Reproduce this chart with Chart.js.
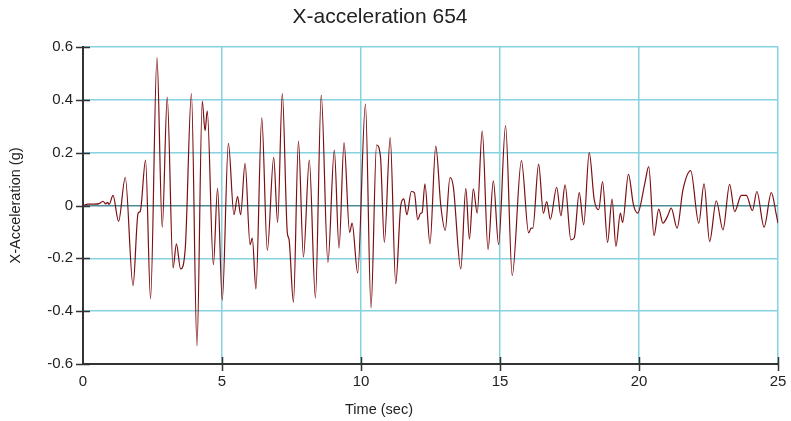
<!DOCTYPE html>
<html>
<head>
<meta charset="utf-8">
<script src="https://cdn.jsdelivr.net/npm/chart.js@4"></script>
<style>
  html, body { margin: 0; padding: 0; background: #fff; }
  #wrap { width: 791px; height: 421px; }
</style>
</head>
<body>
<div id="wrap"><canvas id="accelChart" width="791" height="421"></canvas></div>
<script>
// labels
const chartTitle = 'X-acceleration 654';
const xTitle = 'Time (sec)';
const yTitle = 'X-Acceleration (g)';

// ticks
const xTicks = [0, 5, 10, 15, 20, 25];
const yTicks = [-0.6, -0.4, -0.2, 0, 0.2, 0.4, 0.6];

// record (sec, g)
const times = [
  0.00, 0.18, 0.42, 0.60, 0.72, 0.82, 0.88, 0.94, 1.08, 1.28,
  1.52, 1.80, 1.98, 2.06, 2.25, 2.43, 2.66, 2.85, 3.03, 3.24,
  3.36, 3.51, 3.68, 3.90, 4.10, 4.29, 4.39, 4.47, 4.69, 4.84,
  5.01, 5.23, 5.43, 5.56, 5.67, 5.83, 6.01, 6.09, 6.22, 6.43,
  6.63, 6.86, 7.00, 7.17, 7.35, 7.41, 7.57, 7.75, 7.93, 8.14,
  8.36, 8.57, 8.81, 9.04, 9.21, 9.39, 9.59, 9.68, 9.88, 10.16,
  10.36, 10.56, 10.70, 10.84, 11.05, 11.25, 11.43, 11.54, 11.65, 11.81,
  11.92, 12.04, 12.14, 12.20, 12.30, 12.48, 12.69, 12.87, 13.03, 13.20,
  13.32, 13.59, 13.77, 13.90, 14.04, 14.18, 14.36, 14.57, 14.76, 14.95,
  15.20, 15.44, 15.77, 16.03, 16.12, 16.18, 16.39, 16.56, 16.68, 16.81,
  17.04, 17.19, 17.34, 17.55, 17.67, 17.85, 18.01, 18.21, 18.39, 18.55,
  18.69, 18.87, 19.03, 19.17, 19.33, 19.41, 19.62, 19.80, 19.95, 20.21,
  20.35, 20.54, 20.71, 20.86, 21.02, 21.16, 21.37, 21.58, 21.86, 22.15,
  22.34, 22.54, 22.78, 23.02, 23.26, 23.44, 23.68, 23.86, 24.08, 24.24,
  24.50, 24.76, 24.94, 25.00
];
const accel = [
  0.000, 0.005, 0.005, 0.008, 0.016, 0.006, 0.012, 0.004, 0.038, -0.060,
  0.106, -0.303, -0.030, -0.022, 0.172, -0.353, 0.560, -0.082, 0.409, -0.236,
  -0.145, -0.240, -0.160, 0.424, -0.532, 0.395, 0.283, 0.358, -0.224, 0.065,
  -0.358, 0.235, -0.035, 0.034, -0.035, 0.160, -0.148, -0.123, -0.316, 0.332,
  -0.170, 0.182, -0.064, 0.424, -0.104, -0.127, -0.366, 0.244, -0.195, 0.172,
  -0.350, 0.418, -0.215, 0.210, -0.161, 0.238, -0.102, -0.067, -0.255, 0.384,
  -0.387, 0.229, 0.185, -0.140, 0.257, -0.296, 0.000, 0.025, -0.035, 0.053,
  0.049, -0.054, -0.030, -0.026, 0.082, -0.145, 0.225, 0.000, -0.094, 0.106,
  0.072, -0.240, 0.065, -0.127, 0.063, -0.029, 0.283, -0.167, 0.093, -0.148,
  0.302, -0.265, 0.170, -0.104, -0.086, -0.086, 0.157, -0.029, 0.015, -0.052,
  0.069, -0.039, 0.078, -0.130, -0.123, 0.049, -0.073, 0.200, 0.021, -0.016,
  0.090, -0.140, 0.024, -0.155, -0.029, -0.064, 0.118, 0.003, -0.029, 0.084,
  0.147, -0.114, -0.014, -0.067, -0.042, -0.010, -0.086, 0.059, 0.132, -0.067,
  0.082, -0.136, 0.018, -0.092, 0.080, -0.023, 0.038, 0.038, -0.019, 0.053,
  -0.082, 0.049, -0.035, -0.067
];

const FONT = "'Liberation Sans', Arial, sans-serif";
const gridCyan = '#86d2e0';
const zeroLine = '#4a8b95';
const axisDark = '#333333';

// title, axis titles and ticks that cross the axes
const decorations = {
  id: 'decorations',
  afterDraw(chart) {
    const ctx = chart.ctx;
    const area = chart.chartArea;
    const xs = chart.scales.x;
    const ys = chart.scales.y;
    ctx.save();
    ctx.strokeStyle = axisDark;
    ctx.lineWidth = 1.5;
    ctx.beginPath();
    yTicks.forEach(v => {
      const py = Math.round(ys.getPixelForValue(v)) + 0.5;
      ctx.moveTo(area.left - 7, py);
      ctx.lineTo(area.left + 7, py);
    });
    xTicks.forEach(v => {
      if (v === 0) return;
      const px = Math.round(xs.getPixelForValue(v)) + 0.5;
      ctx.moveTo(px, area.bottom - 7);
      ctx.lineTo(px, area.bottom + 7);
    });
    ctx.stroke();

    ctx.fillStyle = '#222';
    ctx.textAlign = 'center';
    ctx.textBaseline = 'alphabetic';
    ctx.font = '21px ' + FONT;
    ctx.fillText(chartTitle, 380, 22.5);

    ctx.font = '14.5px ' + FONT;
    ctx.fillText(xTitle, 379, 414);

    ctx.translate(20, (area.top + area.bottom) / 2);
    ctx.rotate(-Math.PI / 2);
    ctx.fillText(yTitle, 0, 0);
    ctx.restore();
  }
};

const ctx = document.getElementById('accelChart').getContext('2d');
const accelChart = new Chart(ctx, {
  type: 'line',
  data: {
    datasets: [{
      label: chartTitle,
      data: times.map((t, i) => ({ x: t, y: accel[i] })),
      borderColor: '#7d0f12',
      borderWidth: 1.2,
      pointRadius: 0,
      fill: false,
      cubicInterpolationMode: 'monotone'
    }]
  },
  options: {
    responsive: false,
    animation: false,
    layout: { padding: { top: 47, right: 13, left: 0, bottom: 0 } },
    plugins: {
      legend: { display: false },
      title: { display: false },
      tooltip: { enabled: false }
    },
    scales: {
      x: {
        type: 'linear',
        min: 0,
        max: 25,
        afterBuildTicks: axis => { axis.ticks = xTicks.map(v => ({ value: v })); },
        afterFit: axis => {
          axis.height = 57;
          axis.paddingLeft = 0;
          axis.paddingRight = 0;
        },
        grid: { color: gridCyan, lineWidth: 1.5, drawTicks: false },
        border: { display: true, color: axisDark, width: 2 },
        ticks: {
          color: '#222',
          padding: 9,
          maxRotation: 0,
          font: { family: FONT, size: 15 },
          callback: v => String(v)
        }
      },
      y: {
        min: -0.6,
        max: 0.6,
        afterBuildTicks: axis => { axis.ticks = yTicks.map(v => ({ value: v })); },
        afterFit: axis => {
          axis.width = 83;
          axis.paddingTop = 0;
          axis.paddingBottom = 0;
        },
        grid: {
          color: c => (c.tick && c.tick.value === 0 ? zeroLine : gridCyan),
          lineWidth: 1.5,
          drawTicks: false
        },
        border: { display: true, color: axisDark, width: 2 },
        ticks: {
          color: '#222',
          padding: 10,
          font: { family: FONT, size: 15 },
          callback: v => String(Math.round(v * 10) / 10)
        }
      }
    }
  },
  plugins: [decorations]
});
</script>
</body>
</html>
